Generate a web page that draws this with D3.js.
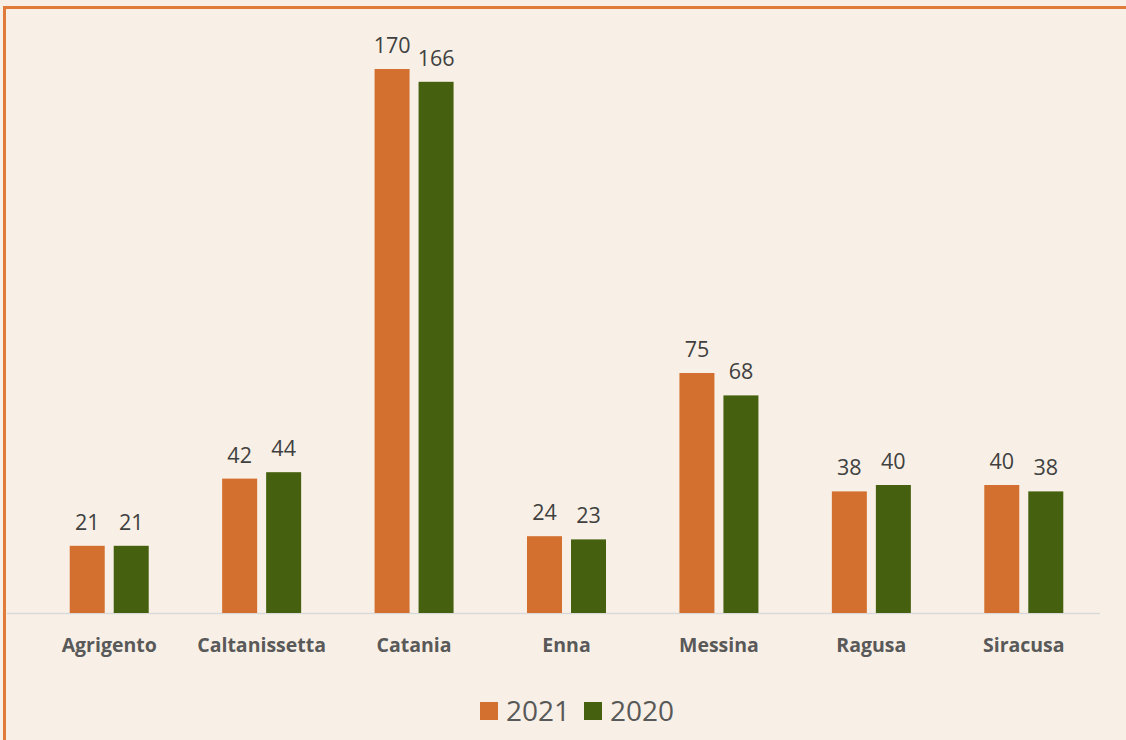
<!DOCTYPE html>
<html><head><meta charset="utf-8">
<script src="https://cdn.jsdelivr.net/npm/d3@7"></script>
<style>html,body{margin:0;padding:0;background:#f8f0e6;}svg{display:block;}</style>
</head><body>
<script>
const categories = ["Agrigento","Caltanissetta","Catania","Enna","Messina","Ragusa","Siracusa"];
const series2021 = [21,42,170,24,75,38,40];
const series2020 = [21,44,166,23,68,40,38];
const seriesNames = ["2021","2020"];
const colors = ["#d4702f","#45600e"];

const W = 1126, H = 740;
const svg = d3.select("body").append("svg").attr("width", W).attr("height", H);
svg.append("rect").attr("x",0).attr("y",0).attr("width",W).attr("height",H).attr("fill","#f8f0e6");
svg.append("rect").attr("x",4.5).attr("y",7.5).attr("width",W+10).attr("height",H+10)
  .attr("fill","none").attr("stroke","#e07b39").attr("stroke-width",3);

const baseY = 613;
const x = d3.scaleBand().domain(categories).range([33, 1100]).padding(0);
const y = d3.scaleLinear().domain([0, 170]).range([baseY, 69]);
const barW = 35, gap = 9;

svg.append("line").attr("x1",7).attr("x2",1100).attr("y1",baseY+0.5).attr("y2",baseY+0.5)
  .attr("stroke","#d9d9d9").attr("stroke-width",1.5);

const data = [series2021, series2020];
data.forEach((vals, si) => {
  const g = svg.append("g");
  categories.forEach((c, i) => {
    const cx = x(c) + x.bandwidth()/2;
    const bx = si === 0 ? cx - gap/2 - barW : cx + gap/2;
    g.append("rect").attr("x", bx).attr("y", y(vals[i])).attr("width", barW)
      .attr("height", baseY - y(vals[i])).attr("fill", colors[si]);
    g.append("text").attr("x", bx + barW/2).attr("y", y(vals[i]) - 16)
      .attr("text-anchor","middle").attr("font-family","'Open Sans', sans-serif")
      .attr("font-size", 21.5).attr("fill","#404040").text(vals[i]);
  });
});

categories.forEach(c => {
  svg.append("text").attr("x", x(c) + x.bandwidth()/2).attr("y", 652)
    .attr("text-anchor","middle").attr("font-family","'Open Sans', sans-serif")
    .attr("font-weight","bold").attr("font-size", 19.5).attr("fill","#595959").text(c);
});

const legend = svg.append("g");
const lx = [480, 584];
seriesNames.forEach((n, i) => {
  legend.append("rect").attr("x", lx[i]).attr("y", 702).attr("width", 18).attr("height", 18).attr("fill", colors[i]);
  legend.append("text").attr("x", lx[i] + 26).attr("y", 721)
    .attr("font-family","'Open Sans', sans-serif").attr("font-size", 28).attr("fill","#595959").text(n);
});
</script>
</body></html>
